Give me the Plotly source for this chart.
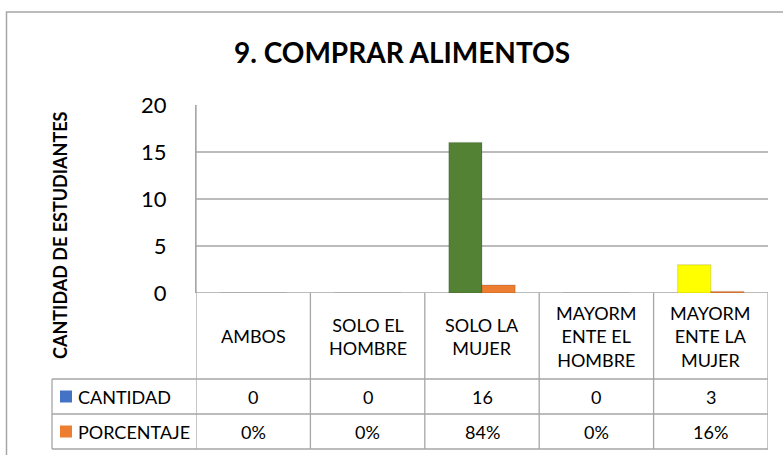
import plotly.graph_objects as go

# ---------------- data ----------------
categories = ["AMBOS", "SOLO EL<br>HOMBRE", "SOLO LA<br>MUJER",
              "MAYORM<br>ENTE EL<br>HOMBRE", "MAYORM<br>ENTE LA<br>MUJER"]
cantidad = [0, 0, 16, 0, 3]
porcentaje = [0, 0, 0.84, 0, 0.16]
series_names = ["CANTIDAD", "PORCENTAJE"]
y_ticks = [0, 5, 10, 15, 20]
grid_vals = [0, 5, 10, 15]
title_text = "9. COMPRAR ALIMENTOS"
y_title = "CANTIDAD DE ESTUDIANTES"

# ---------------- style ----------------
cantidad_colors = ["#4472C4", "#4472C4", "#548235", "#4472C4", "#FFFF00"]
legend_colors = ["#4472C4", "#ED7D31"]
pct_color = "#ED7D31"
grid_color = "#A6A6A6"
border_color = "#A6A6A6"
FONT = "Lato"

W, H = 783, 455
L, R, T, B = 196, 768, 105, 293


def px(x):
    return (x - L) / (R - L)


def py(y):
    return (B - y) / (B - T)


xs = list(range(len(categories)))

fig = go.Figure()
fig.add_trace(go.Bar(x=xs, y=cantidad, name=series_names[0],
                     marker=dict(color=cantidad_colors,
                                 line=dict(width=1.5, color="rgba(0,0,0,0.10)"))))
fig.add_trace(go.Bar(x=xs, y=porcentaje, name=series_names[1],
                     marker=dict(color=pct_color,
                                 line=dict(width=1.5, color="rgba(0,0,0,0.10)"))))

shapes = []
# outer chart border
shapes.append(dict(type="rect", xref="paper", yref="paper",
                   x0=px(6.5), x1=px(800), y0=py(470), y1=py(12),
                   line=dict(color=border_color, width=1.5), layer="below"))
# gridlines
for g in grid_vals:
    shapes.append(dict(type="line", xref="paper", yref="y", x0=0, x1=1,
                       y0=g, y1=g, line=dict(color=grid_color, width=1.3),
                       layer="below"))
# table horizontal lines
row_lines = [379, 414, 449]
for yl in row_lines:
    shapes.append(dict(type="line", xref="paper", yref="paper",
                       x0=px(52), x1=1, y0=py(yl), y1=py(yl),
                       line=dict(color=grid_color, width=1.3)))
# table vertical lines at category boundaries
n = len(categories)
for i in range(n + 1):
    y_top = T if i == 0 else B
    shapes.append(dict(type="line", xref="x", yref="paper",
                       x0=i - 0.5, x1=i - 0.5, y0=py(449), y1=py(y_top),
                       line=dict(color=grid_color, width=1.3)))
# left edge of legend column
shapes.append(dict(type="line", xref="paper", yref="paper",
                   x0=px(52), x1=px(52), y0=py(449), y1=py(379),
                   line=dict(color=grid_color, width=1.3)))

annotations = []
# title
annotations.append(dict(text="<b>" + title_text + "</b>", xref="paper", yref="paper",
                        x=px(402), y=py(52), xanchor="center", yanchor="middle",
                        showarrow=False,
                        font=dict(family=FONT, size=28, color="#000000")))
# y title
annotations.append(dict(text="<b>" + y_title + "</b>", xref="paper", yref="paper",
                        x=px(60), y=py(235), xanchor="center", yanchor="middle",
                        showarrow=False, textangle=-90,
                        font=dict(family=FONT, size=18, color="#000000")))
# category labels
for i, c in enumerate(categories):
    annotations.append(dict(text=c, xref="x", yref="paper", x=i, y=py(336),
                            xanchor="center", yanchor="middle",
                            showarrow=False, align="center",
                            font=dict(family=FONT, size=18, color="#000000")))
# table rows
row_centers = [396.5, 431.5]
row_texts = [[str(v) for v in cantidad],
             ["{:.0f}%".format(v * 100) for v in porcentaje]]
for r, (name, yc) in enumerate(zip(series_names, row_centers)):
    shapes.append(dict(type="rect", xref="paper", yref="paper",
                       x0=px(60), x1=px(72), y0=py(yc + 6), y1=py(yc - 6),
                       fillcolor=legend_colors[r], line=dict(width=0)))
    annotations.append(dict(text=name, xref="paper", yref="paper",
                            x=px(76), y=py(yc), xanchor="left", yanchor="middle",
                            showarrow=False,
                            font=dict(family=FONT, size=18, color="#000000")))
    for i, t in enumerate(row_texts[r]):
        annotations.append(dict(text=t, xref="x", yref="paper", x=i, y=py(yc),
                                xanchor="center", yanchor="middle",
                                showarrow=False,
                                font=dict(family=FONT, size=18, color="#000000")))

fig.update_layout(
    width=W, height=H,
    margin=dict(l=L, r=W - R, t=T, b=H - B),
    paper_bgcolor="white", plot_bgcolor="white",
    showlegend=False,
    barmode="group", bargap=0.42, bargroupgap=0,
    xaxis=dict(range=[-0.5, n - 0.5], showticklabels=False, showgrid=False,
               zeroline=False, showline=False, fixedrange=True),
    yaxis=dict(range=[0, 20], tickvals=y_ticks, showgrid=False, zeroline=False,
               showline=True, linecolor=grid_color, linewidth=1.3,
               ticks="", ticklabelstandoff=24,
               tickfont=dict(family=FONT, size=22, color="#000000")),
    shapes=shapes,
    annotations=annotations,
)

fig.write_html("out.html", config={"displayModeBar": False},
               post_script="document.body.style.margin='0px';document.body.style.overflow='hidden';")
